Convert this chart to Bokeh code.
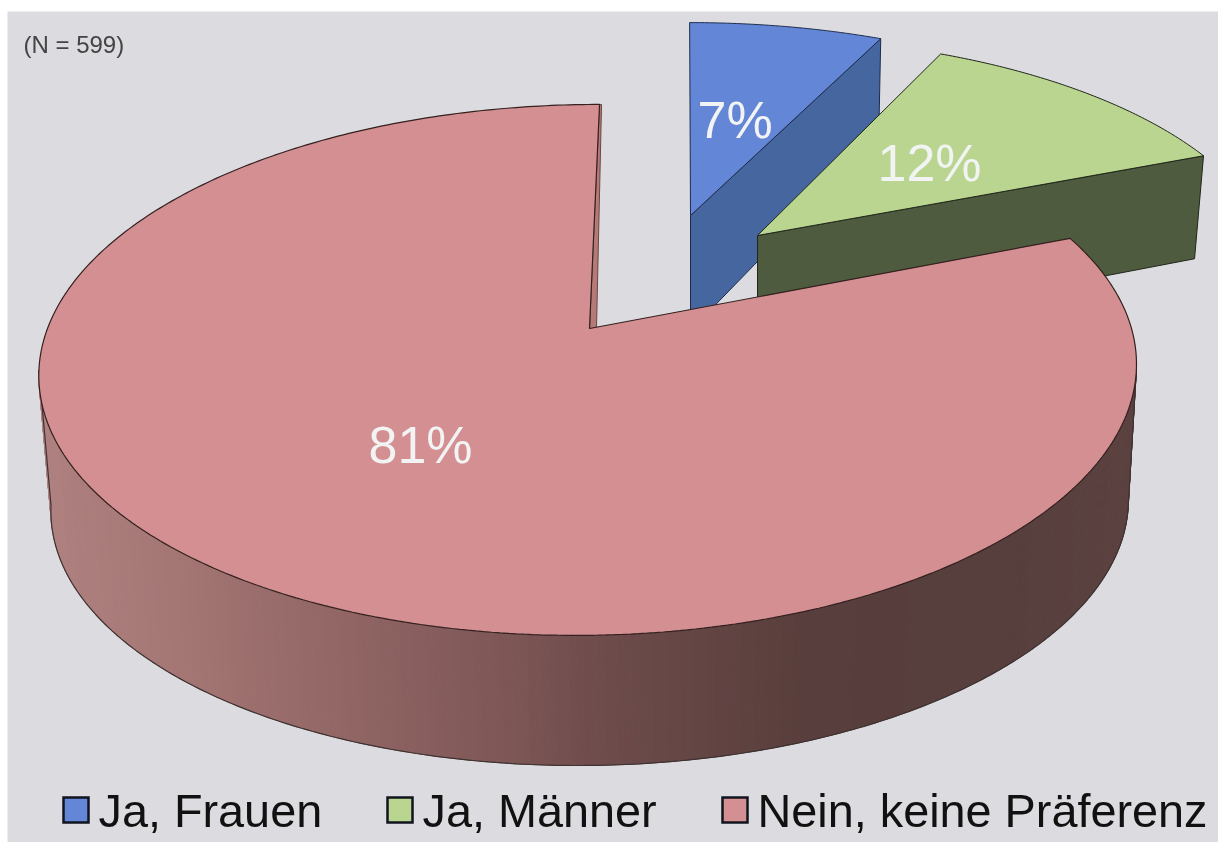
import numpy as np
from bokeh.plotting import figure
from bokeh.models import Range1d
from bokeh.core.properties import value
from bokeh.embed import file_html
from bokeh.resources import INLINE

# --- data ---
categories = ["Ja, Frauen", "Ja, Männer", "Nein, keine Präferenz"]
shares = [7, 12, 81]
share_labels = ["7%", "12%", "81%"]
note = "(N = 599)"

# --- styles ---
top_colors = ["#6486d6", "#b9d590", "#d48f92"]
wall_colors = ["#46669f", "#4f5b3e"]
BG = "#dcdce0"
K = 0.156
TOP = dict(cx=589, cy=328, A=542, B=259, S=11.6)      # main slice, upper face
BOT = dict(cx=591, cy=464.4, A=532, B=253.7, S=11.6)  # main slice, lower face
BLUE = dict(cx=690, cy=215, A=512, B=223, S=-1)
GREEN = dict(cx=757, cy=235, A=511, B=229, S=-9.4)
WALL_X = [40, 200, 500, 600, 800, 1000, 1135]
WALL_R = [176, 162, 127, 110, 88, 86, 92]
WALL_G = [130, 116, 87, 76, 62, 63, 66]
WALL_B = [129, 114, 87, 75, 60, 61, 64]


def project(f, deg):
    t = np.radians(deg)
    X, Y = np.sin(t), np.cos(t)
    w = 1 + K * Y
    return f["cx"] + (f["A"] * X + f["S"] * Y) / w, f["cy"] - f["B"] * Y / w


def arc(f, a, b, n=80):
    return project(f, np.linspace(a, b, n))


edges = np.cumsum([0] + shares) * 3.6   # clockwise from the top

p = figure(width=1218, height=842, output_backend="svg", toolbar_location=None,
           x_range=Range1d(0, 1218), y_range=Range1d(842, 0),
           x_axis_location=None, y_axis_location=None,
           min_border=0, outline_line_color=None, background_fill_color="white",
           border_fill_color="white")
p.styles = {"position": "fixed", "left": "0px", "top": "0px"}
p.grid.visible = False
p.quad(left=7, right=1218, top=11, bottom=842, fill_color=BG, line_color=None)

# Blue slice
ax, ay = arc(BLUE, edges[0], edges[1])
p.patch([ax[-1], ax[-1] - 2, BLUE["cx"], BLUE["cx"]],
        [ay[-1], ay[-1] + 98, BLUE["cy"] + 115, BLUE["cy"]],
        fill_color=wall_colors[0], line_color="#1d2c4d", line_width=1)
p.patch([BLUE["cx"], *ax], [BLUE["cy"], *ay], fill_color=top_colors[0],
        line_color="#1d2c4d", line_width=1)

# Green slice
ax, ay = arc(GREEN, edges[1], edges[2])
p.patch([ax[-1], ax[-1] - 9, GREEN["cx"], GREEN["cx"]],
        [ay[-1], ay[-1] + 103, GREEN["cy"] + 107, GREEN["cy"]],
        fill_color=wall_colors[1], line_color="#20261a", line_width=1)
p.patch([GREEN["cx"], *ax], [GREEN["cy"], *ay], fill_color=top_colors[1],
        line_color="#20261a", line_width=1)

# Main slice: radial face seen at its far edge
rx, ry = project(TOP, edges[3])
p.patch([rx, rx + 2, TOP["cx"] + 7, TOP["cx"]], [ry, ry, TOP["cy"], TOP["cy"]],
        fill_color="#b57a78", line_color="#6a4644", line_width=1)

# Main slice: outer wall, shaded strip by strip (between the silhouette angles)
th = np.linspace(99, 261, 261)
tx, ty = project(TOP, th)
bx, by = project(BOT, th)
xs, ys, cols = [], [], []
for i in range(len(th) - 1):
    xs.append([tx[i], tx[i + 1], bx[i + 1], bx[i]])
    ys.append([ty[i], ty[i + 1], by[i + 1], by[i]])
    m = (bx[i] + bx[i + 1]) / 2
    cols.append("#%02x%02x%02x" % (round(np.interp(m, WALL_X, WALL_R)),
                                   round(np.interp(m, WALL_X, WALL_G)),
                                   round(np.interp(m, WALL_X, WALL_B))))
p.patches(xs, ys, fill_color=cols, line_color=cols, line_width=1)
p.line([tx[0], *bx, tx[-1]], [ty[0], *by, ty[-1]], line_color="#3e3232", line_width=1.2)

# Main slice: upper face
ax, ay = arc(TOP, edges[2], edges[3], 400)
p.patch([TOP["cx"], *ax], [TOP["cy"], *ay], fill_color=top_colors[2],
        line_color="#33201f", line_width=1.2)

# Labels
lab_x = [697, 877, 368]
lab_y = [119, 162, 444]
p.text(lab_x, lab_y, text=share_labels, text_color="#f2f3f3",
       text_font=value("Liberation Sans"), text_font_size=value("52px"),
       text_baseline="middle", text_align="left")
p.text([23], [44], text=[note], text_color="#444444",
       text_font=value("Liberation Sans"), text_font_size=value("24px"),
       text_baseline="middle", text_align="left")

# Legend
sq_left = [63, 387, 722]
sq_text = [98, 422, 757]
p.quad(left=sq_left, right=[v + 25 for v in sq_left], top=[797] * 3, bottom=[822] * 3,
       fill_color=top_colors, line_color="#10141e", line_width=2.5, line_join="miter")
p.text(sq_text, [810] * 3, text=categories, text_color="#111111",
       text_font=value("Liberation Sans"), text_font_size=value("46.8px"),
       text_baseline="middle", text_align="left")

open("out.html", "w").write(file_html(p, INLINE))
